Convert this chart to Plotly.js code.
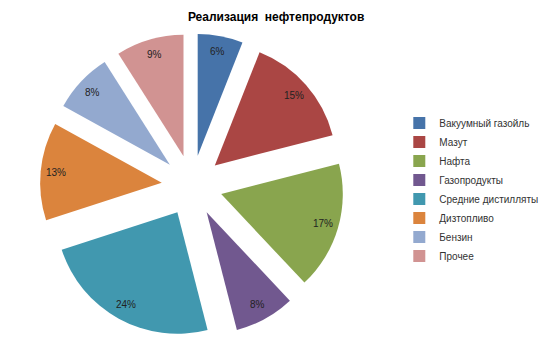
<!DOCTYPE html>
<html>
<head>
<meta charset="utf-8">
<script src="https://cdn.plot.ly/plotly-3.0.1.min.js"></script>
<style>html,body{margin:0;padding:0;background:#fff;}#chart{width:550px;height:352px;}</style>
</head>
<body>
<div id="chart"></div>
<script>
const categories = ["Вакуумный газойль", "Мазут", "Нафта", "Газопродукты", "Средние дистилляты", "Дизтопливо", "Бензин", "Прочее"];
const shares = [6, 15, 17, 8, 24, 13, 8, 9];
const colors = ["#4673A9", "#AA4644", "#89A54E", "#71588F", "#4198AF", "#DB843D", "#93A9CF", "#D19392"];
const titleText = "Реализация \u00A0нефтепродуктов";

const W = 550, H = 352;
const PULL = 0.25;
const LABEL_R = 0.87; // label distance from slice centre, as fraction of radius
const labelFont = { family: "Liberation Sans, Arial, sans-serif", size: 10, color: "#222" };

const trace = {
  type: "pie",
  labels: categories,
  values: shares,
  sort: false,
  direction: "clockwise",
  rotation: 0,
  pull: shares.map(() => PULL),
  marker: { colors: colors, line: { width: 0 } },
  textinfo: "none",
  hoverinfo: "none",
  domain: { x: [0.0727, 0.6255], y: [0.0412, 0.9048] }
};

const layout = {
  width: W,
  height: H,
  margin: { l: 0, r: 0, t: 0, b: 0 },
  paper_bgcolor: "#fff",
  plot_bgcolor: "#fff",
  title: {
    text: "<b>" + titleText + "</b>",
    x: 0.502, xanchor: "center",
    y: 0.952, yanchor: "middle",
    font: { family: "Liberation Sans, Arial, sans-serif", size: 12, color: "#000" }
  },
  showlegend: true,
  legend: {
    x: 0.726, xanchor: "left",
    y: 0.462, yanchor: "middle",
    font: { family: "Liberation Sans, Arial, sans-serif", size: 10, color: "#333" },
    itemwidth: 30,
    bgcolor: "rgba(0,0,0,0)"
  }
};

Plotly.newPlot("chart", [trace], layout, { staticPlot: true, displayModeBar: false }).then(gd => {
  const cd0 = gd.calcdata[0][0];
  const cx = cd0.cx, cy = cd0.cy, r = cd0.r;
  const total = shares.reduce((a, b) => a + b, 0);
  let cum = 0;
  const annotations = shares.map(v => {
    const mid = (cum + v / 2) / total * 2 * Math.PI;
    cum += v;
    const k = r * (PULL + LABEL_R);
    const px = cx + k * Math.sin(mid);
    const py = cy - k * Math.cos(mid);
    return {
      xref: "paper", yref: "paper",
      x: px / W, y: 1 - py / H,
      xanchor: "center", yanchor: "middle",
      text: Math.round(v / total * 100) + "%",
      showarrow: false,
      font: labelFont
    };
  });
  return Plotly.relayout(gd, { annotations: annotations });
});
</script>
</body>
</html>
